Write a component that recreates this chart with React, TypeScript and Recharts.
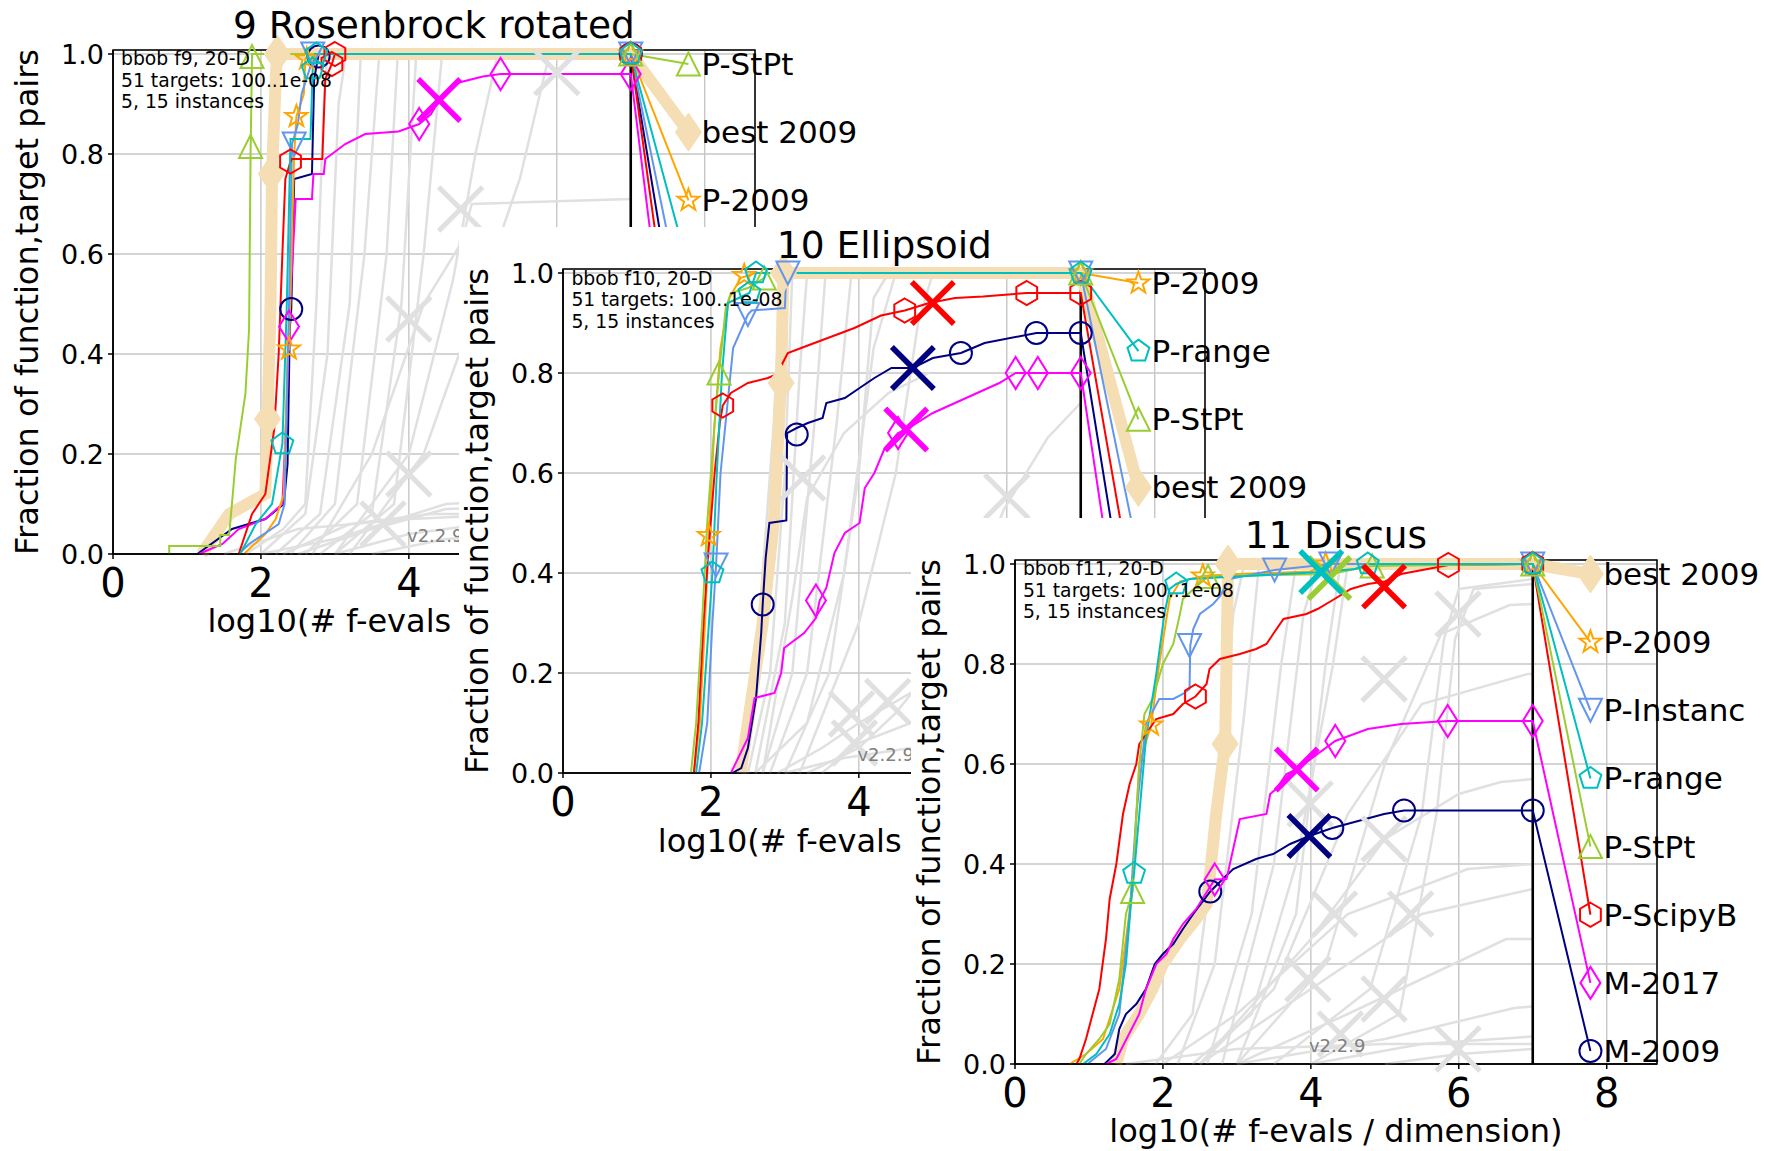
import React from "react";
import {
  ComposedChart,
  Line,
  Scatter,
  XAxis,
  YAxis,
  CartesianGrid,
  ReferenceLine,
  ReferenceArea,
} from "recharts";

type Pt = [number, number];

const FONT = "DejaVu Sans";

// panel geometry (px inside one panel box)
const W = 870;
const H = 640;
const PLOT_L = 104;
const PLOT_T = 42;
const PLOT_W = 642;
const PLOT_H = 504;
const Y_AXIS_W = 60;
const X_AXIS_H = 82;
const X_MAX = 8.68;
const Y_MAX = 1.008;
const LABEL_X = 7.78;

const ALGS = ["M-2009", "M-2017", "P-2009", "P-Instanc", "P-ScipyB", "P-StPt", "P-range"];

const COLORS: Record<string, string> = {
  "best 2009": "#f5deb3",
  "M-2009": "#000080",
  "M-2017": "#ff00ff",
  "P-2009": "#ffa500",
  "P-Instanc": "#6495ed",
  "P-ScipyB": "#ff0000",
  "P-StPt": "#9acd32",
  "P-range": "#00bfbf",
};

const SHAPES: Record<string, string> = {
  "best 2009": "bd",
  "M-2009": "o",
  "M-2017": "d",
  "P-2009": "*",
  "P-Instanc": "v",
  "P-ScipyB": "h",
  "P-StPt": "^",
  "P-range": "p",
};

// ---------- f9 Rosenbrock rotated ----------
const F9_CURVES: Record<string, Pt[]> = {
  "best 2009": [[1.2, 0], [1.57, 0.08], [2.06, 0.12], [2.09, 0.27], [2.13, 0.5], [2.15, 0.76], [2.2, 0.95], [2.22, 1.0], [7, 1.0]],
  "M-2009": [[1.14, 0], [1.61, 0.05], [2.06, 0.07], [2.31, 0.1], [2.36, 0.18], [2.39, 0.45], [2.41, 0.49], [2.45, 0.75], [2.69, 0.76], [2.72, 0.95], [2.78, 1.0], [7, 1.0]],
  "M-2017": [[1.16, 0], [1.48, 0.02], [1.7, 0.05], [2.06, 0.07], [2.29, 0.1], [2.35, 0.3], [2.38, 0.455], [2.47, 0.71], [2.69, 0.71], [2.71, 0.76], [2.85, 0.76], [2.87, 0.79], [3.14, 0.82], [3.41, 0.84], [3.86, 0.845], [4.14, 0.86], [4.3, 0.88], [4.41, 0.908], [4.6, 0.94], [5.0, 0.955], [5.24, 0.96], [7, 0.96]],
  "P-2009": [[1.77, 0], [2.06, 0.04], [2.2, 0.07], [2.31, 0.12], [2.36, 0.4], [2.38, 0.41], [2.45, 0.8], [2.48, 0.875], [2.58, 0.92], [2.6, 0.99], [2.65, 1.0], [7, 1.0]],
  "P-Instanc": [[1.7, 0], [1.84, 0.02], [2.24, 0.06], [2.32, 0.1], [2.38, 0.5], [2.42, 0.82], [2.5, 0.86], [2.55, 0.92], [2.68, 0.98], [2.7, 1.0], [7, 1.0]],
  "P-ScipyB": [[1.7, 0], [1.88, 0.08], [2.06, 0.12], [2.18, 0.25], [2.24, 0.4], [2.29, 0.6], [2.33, 0.75], [2.4, 0.785], [2.42, 0.79], [2.83, 0.79], [2.87, 0.95], [2.96, 0.98], [3.0, 1.0], [7, 1.0]],
  "P-StPt": [[0.76, 0], [0.76, 0.016], [1.45, 0.016], [1.45, 0.038], [1.57, 0.038], [1.62, 0.12], [1.66, 0.19], [1.79, 0.32], [1.84, 0.45], [1.86, 0.8], [1.88, 1.0], [7, 1.0]],
  "P-range": [[1.72, 0], [1.93, 0.06], [2.15, 0.1], [2.29, 0.22], [2.35, 0.5], [2.4, 0.83], [2.67, 0.83], [2.7, 0.97], [2.73, 1.0], [7, 1.0]],
};
const F9_MARKS: Record<string, Pt[]> = {
  "best 2009": [[2.09, 0.27], [2.14, 0.76], [2.22, 1.0]],
  "M-2009": [[2.41, 0.49], [2.78, 0.995], [7, 1.0]],
  "M-2017": [[2.38, 0.455], [4.14, 0.86], [5.24, 0.96], [7, 0.96]],
  "P-2009": [[2.38, 0.41], [2.48, 0.875], [2.62, 0.99], [7, 1.0]],
  "P-Instanc": [[2.45, 0.82], [2.7, 1.0], [7, 1.0]],
  "P-ScipyB": [[2.4, 0.785], [2.96, 0.98], [3.0, 1.0], [7, 1.0]],
  "P-StPt": [[1.86, 0.815], [1.88, 0.995], [7, 1.0]],
  "P-range": [[2.29, 0.22], [2.7, 0.97], [2.75, 1.0], [7, 1.0]],
};
const F9_CROSSES: Record<string, Pt[]> = {
  "M-2017": [[4.41, 0.908]],
};
const F9_ORDER = ["P-StPt", "best 2009", "P-2009", "P-range", "P-Instanc", "M-2009", "P-ScipyB", "M-2017"];
const F9_GRAY: Pt[][] = [
  [[1.8, 0], [2.3, 0.05], [2.6, 0.1], [2.75, 0.5], [2.85, 0.9], [2.9, 1]],
  [[2.0, 0], [2.6, 0.08], [2.9, 0.4], [3.05, 0.9], [3.15, 1]],
  [[2.2, 0], [2.8, 0.08], [3.2, 0.5], [3.35, 1]],
  [[2.4, 0], [3.0, 0.1], [3.4, 0.6], [3.6, 1]],
  [[2.6, 0], [3.3, 0.1], [3.7, 0.6], [3.85, 1]],
  [[2.8, 0], [3.5, 0.08], [3.9, 0.5], [4.1, 1]],
  [[3.0, 0], [3.8, 0.1], [4.2, 0.6], [4.45, 1]],
  [[3.0, 0], [4.0, 0.2], [4.6, 0.55], [4.9, 0.8], [5.2, 1]],
  [[3.2, 0], [4.2, 0.2], [4.8, 0.45], [5.5, 0.75], [5.9, 1]],
  [[2.7, 0], [3.5, 0.2], [4.2, 0.5], [4.7, 0.62], [4.85, 0.7], [7, 0.71]],
  [[1.5, 0], [2.5, 0.05], [4.0, 0.07], [7, 0.09]],
  [[2.0, 0], [3.0, 0.03], [4.5, 0.1], [7, 0.12]],
  [[2.5, 0], [3.5, 0.05], [4.5, 0.09], [7, 0.1]],
  [[3.0, 0], [4.0, 0.04], [5, 0.06], [7, 0.07]],
  [[3.5, 0], [4.5, 0.03], [7, 0.05]],
  [[2.3, 0], [3.2, 0.06], [4.3, 0.08], [7, 0.08]],
];
const F9_GRAY_X: Pt[] = [[4.0, 0.47], [4.0, 0.16], [4.7, 0.69], [6.0, 0.963], [3.65, 0.06]];

// ---------- f10 Ellipsoid ----------
const F10_CURVES: Record<string, Pt[]> = {
  "best 2009": [[2.4, 0], [2.55, 0.15], [2.7, 0.3], [2.85, 0.5], [2.92, 0.7], [2.95, 0.8], [2.98, 1.0], [7, 1.0]],
  "M-2009": [[2.29, 0], [2.41, 0.01], [2.5, 0.05], [2.61, 0.15], [2.68, 0.28], [2.7, 0.337], [2.74, 0.43], [2.79, 0.5], [3.02, 0.505], [3.03, 0.68], [3.16, 0.69], [3.31, 0.7], [3.51, 0.71], [3.56, 0.74], [3.81, 0.75], [4.01, 0.77], [4.21, 0.79], [4.44, 0.81], [4.73, 0.81], [5.0, 0.83], [5.38, 0.84], [5.7, 0.86], [6.4, 0.88], [7, 0.88]],
  "M-2017": [[2.27, 0], [2.5, 0.07], [2.59, 0.15], [2.86, 0.16], [2.95, 0.2], [2.99, 0.25], [3.26, 0.28], [3.42, 0.31], [3.47, 0.345], [3.56, 0.37], [3.67, 0.44], [3.81, 0.48], [4.01, 0.5], [4.08, 0.57], [4.21, 0.6], [4.35, 0.65], [4.53, 0.68], [4.64, 0.687], [5.0, 0.72], [5.45, 0.75], [5.9, 0.78], [6.12, 0.8], [7, 0.8]],
  "P-2009": [[1.77, 0], [1.85, 0.1], [1.92, 0.3], [1.97, 0.475], [2.05, 0.7], [2.13, 0.85], [2.25, 0.95], [2.4, 0.99], [2.6, 1.0], [7, 1.0]],
  "P-Instanc": [[1.84, 0], [1.95, 0.1], [2.02, 0.3], [2.07, 0.416], [2.13, 0.6], [2.3, 0.85], [2.5, 0.917], [2.55, 0.925], [3.0, 0.93], [3.02, 1.0], [7, 1.0]],
  "P-ScipyB": [[1.77, 0], [1.83, 0.1], [1.9, 0.3], [1.97, 0.45], [2.05, 0.6], [2.12, 0.7], [2.16, 0.735], [2.27, 0.76], [2.5, 0.78], [2.77, 0.79], [2.93, 0.8], [2.97, 0.82], [3.04, 0.84], [3.31, 0.855], [3.58, 0.87], [3.94, 0.89], [4.3, 0.915], [4.62, 0.925], [4.95, 0.94], [5.3, 0.95], [5.68, 0.953], [6.27, 0.96], [7, 0.96]],
  "P-StPt": [[1.73, 0], [1.8, 0.1], [1.88, 0.3], [1.95, 0.5], [2.05, 0.7], [2.11, 0.8], [2.2, 0.93], [2.27, 0.96], [2.5, 0.97], [2.72, 0.99], [2.75, 1.0], [7, 1.0]],
  "P-range": [[1.8, 0], [1.88, 0.1], [1.95, 0.25], [2.02, 0.4], [2.08, 0.6], [2.15, 0.8], [2.23, 0.94], [2.52, 0.96], [2.61, 1.0], [7, 1.0]],
};
const F10_MARKS: Record<string, Pt[]> = {
  "best 2009": [[2.95, 0.78], [2.98, 1.0]],
  "M-2009": [[2.7, 0.337], [3.16, 0.677], [5.38, 0.84], [6.4, 0.88], [7, 0.88]],
  "M-2017": [[3.42, 0.345], [4.53, 0.68], [6.12, 0.8], [6.42, 0.8], [7, 0.8]],
  "P-2009": [[1.97, 0.475], [2.45, 0.995], [7, 1.0]],
  "P-Instanc": [[2.07, 0.416], [2.5, 0.917], [3.04, 1.0], [7, 1.0]],
  "P-ScipyB": [[2.16, 0.735], [4.62, 0.925], [6.27, 0.96], [7, 0.96]],
  "P-StPt": [[2.11, 0.8], [2.72, 0.99], [7, 1.0]],
  "P-range": [[2.02, 0.4], [2.52, 0.96], [2.61, 1.0], [7, 1.0]],
};
const F10_CROSSES: Record<string, Pt[]> = {
  "P-ScipyB": [[5.0, 0.94]],
  "M-2009": [[4.73, 0.81]],
  "M-2017": [[4.64, 0.687]],
};
const F10_ORDER = ["P-2009", "P-range", "P-StPt", "best 2009", "P-Instanc", "P-ScipyB", "M-2009", "M-2017"];
const F10_GRAY: Pt[][] = [
  [[2.45, 0], [2.65, 0.3], [2.85, 0.7], [2.95, 1]],
  [[2.5, 0], [2.8, 0.2], [3.0, 0.6], [3.1, 1]],
  [[2.6, 0], [3.0, 0.3], [3.2, 0.8], [3.3, 1]],
  [[2.7, 0], [3.1, 0.2], [3.4, 0.7], [3.55, 1]],
  [[2.8, 0], [3.3, 0.2], [3.7, 0.7], [3.9, 1]],
  [[3.0, 0], [3.6, 0.2], [4.0, 0.6], [4.2, 0.95], [4.4, 1]],
  [[2.7, 0], [3.1, 0.35], [3.3, 0.55], [3.8, 0.68], [4.4, 0.76], [4.95, 0.8]],
  [[3.2, 0], [4.0, 0.3], [4.5, 0.6], [4.8, 0.9], [5.0, 1]],
  [[3.3, 0], [4.0, 0.05], [4.5, 0.12], [5.2, 0.25], [5.96, 0.527], [6.55, 0.67], [7, 0.74]],
  [[2.9, 0], [3.5, 0.05], [4.0, 0.1], [4.7, 0.16], [7, 0.2]],
  [[3.5, 0], [4.0, 0.06], [4.7, 0.1], [7, 0.12]],
  [[3.0, 0], [3.8, 0.03], [4.7, 0.05], [7, 0.06]],
  [[2.6, 0], [3.3, 0.1], [3.8, 0.4], [4.2, 0.85], [4.5, 1]],
];
const F10_GRAY_X: Pt[] = [[3.24, 0.59], [3.9, 0.118], [4.39, 0.143], [3.94, 0.06], [6.0, 0.553]];

// ---------- f11 Discus ----------
const F11_CURVES: Record<string, Pt[]> = {
  "best 2009": [[1.37, 0], [1.46, 0.05], [1.68, 0.1], [1.86, 0.15], [2.0, 0.2], [2.23, 0.25], [2.45, 0.29], [2.59, 0.32], [2.63, 0.37], [2.72, 0.5], [2.84, 0.64], [2.86, 0.8], [2.88, 1.0], [7, 1.0]],
  "M-2009": [[1.21, 0], [1.35, 0.02], [1.41, 0.07], [1.5, 0.1], [1.64, 0.12], [1.77, 0.15], [1.89, 0.2], [2.0, 0.22], [2.14, 0.24], [2.27, 0.27], [2.41, 0.3], [2.64, 0.345], [2.81, 0.37], [2.95, 0.39], [3.26, 0.41], [3.49, 0.42], [3.72, 0.44], [3.98, 0.456], [4.29, 0.472], [4.99, 0.5], [5.26, 0.507], [7, 0.507]],
  "M-2017": [[1.23, 0], [1.37, 0.01], [1.68, 0.1], [1.77, 0.15], [1.91, 0.2], [2.05, 0.22], [2.14, 0.25], [2.27, 0.28], [2.45, 0.31], [2.7, 0.369], [2.86, 0.37], [2.95, 0.43], [3.04, 0.49], [3.4, 0.5], [3.45, 0.54], [3.53, 0.55], [3.67, 0.58], [3.81, 0.589], [4.09, 0.62], [4.33, 0.646], [4.77, 0.67], [5.22, 0.68], [5.85, 0.686], [7, 0.686]],
  "P-2009": [[0.74, 0], [0.96, 0.02], [1.19, 0.05], [1.41, 0.15], [1.59, 0.35], [1.68, 0.6], [1.84, 0.678], [1.95, 0.8], [2.09, 0.93], [2.23, 0.965], [2.54, 0.976], [3.0, 0.98], [4.0, 0.985], [4.2, 1.0], [7, 1.0]],
  "P-Instanc": [[0.98, 0], [1.23, 0.03], [1.41, 0.1], [1.55, 0.3], [1.64, 0.5], [1.77, 0.68], [1.95, 0.73], [2.14, 0.73], [2.27, 0.74], [2.36, 0.75], [2.37, 0.837], [2.41, 0.87], [2.5, 0.9], [2.68, 0.92], [2.77, 0.935], [2.9, 0.97], [3.51, 0.988], [4.27, 1.0], [7, 1.0]],
  "P-ScipyB": [[0.83, 0], [0.87, 0.01], [0.96, 0.05], [1.05, 0.1], [1.14, 0.15], [1.23, 0.25], [1.28, 0.33], [1.37, 0.4], [1.46, 0.5], [1.55, 0.56], [1.64, 0.6], [1.68, 0.64], [1.77, 0.66], [1.91, 0.69], [2.14, 0.7], [2.27, 0.72], [2.44, 0.735], [2.59, 0.76], [2.63, 0.79], [2.77, 0.81], [3.04, 0.82], [3.26, 0.83], [3.4, 0.84], [3.49, 0.86], [3.63, 0.89], [3.94, 0.9], [4.09, 0.91], [4.32, 0.93], [4.54, 0.95], [4.77, 0.96], [5.0, 0.965], [5.22, 0.98], [5.58, 0.99], [5.86, 0.998], [7, 1.0]],
  "P-StPt": [[0.87, 0], [0.96, 0.02], [1.14, 0.05], [1.28, 0.08], [1.41, 0.17], [1.5, 0.3], [1.59, 0.345], [1.64, 0.5], [1.68, 0.6], [1.75, 0.7], [1.86, 0.73], [2.0, 0.8], [2.14, 0.84], [2.23, 0.9], [2.27, 0.93], [2.45, 0.955], [2.61, 0.975], [3.5, 0.978], [4.27, 0.98], [4.6, 0.99], [4.83, 0.996], [7, 1.0]],
  "P-range": [[0.92, 0], [1.1, 0.02], [1.28, 0.06], [1.41, 0.12], [1.5, 0.2], [1.59, 0.36], [1.61, 0.381], [1.77, 0.65], [1.91, 0.78], [2.02, 0.9], [2.09, 0.95], [2.18, 0.96], [2.36, 0.97], [3.0, 0.975], [4.14, 0.984], [4.6, 0.99], [4.77, 1.0], [7, 1.0]],
};
const F11_MARKS: Record<string, Pt[]> = {
  "best 2009": [[2.84, 0.64], [2.88, 1.0]],
  "M-2009": [[2.64, 0.345], [4.29, 0.472], [5.26, 0.507], [7, 0.507]],
  "M-2017": [[2.7, 0.369], [4.33, 0.646], [5.85, 0.686], [7, 0.686]],
  "P-2009": [[1.84, 0.678], [2.54, 0.976], [4.2, 1.0], [7, 1.0]],
  "P-Instanc": [[2.36, 0.837], [3.51, 0.988], [4.27, 1.0], [7, 1.0]],
  "P-ScipyB": [[2.44, 0.735], [5.86, 0.998], [7, 1.0]],
  "P-StPt": [[1.59, 0.345], [2.61, 0.975], [4.83, 0.996], [7, 1.0]],
  "P-range": [[1.61, 0.381], [2.18, 0.96], [4.77, 1.0], [7, 1.0]],
};
const F11_CROSSES: Record<string, Pt[]> = {
  "P-ScipyB": [[4.99, 0.955]],
  "M-2009": [[3.98, 0.456]],
  "M-2017": [[3.81, 0.589]],
  "P-StPt": [[4.25, 0.972]],
  "P-range": [[4.14, 0.984]],
};
const F11_ORDER = ["best 2009", "P-2009", "P-Instanc", "P-range", "P-StPt", "P-ScipyB", "M-2017", "M-2009"];
const F11_GRAY: Pt[][] = [
  [[1.9, 0], [2.4, 0.1], [2.75, 0.5], [2.95, 0.9], [3.1, 1]],
  [[2.2, 0], [2.7, 0.2], [3.1, 0.7], [3.3, 1]],
  [[2.6, 0], [3.2, 0.3], [3.6, 0.8], [3.8, 1]],
  [[2.8, 0], [3.5, 0.4], [3.9, 0.9], [4.1, 1]],
  [[3.0, 0], [3.8, 0.3], [4.2, 0.8], [4.4, 1]],
  [[2.4, 0], [3.2, 0.1], [3.8, 0.4], [4.3, 0.8], [4.5, 1]],
  [[3.5, 0], [4.8, 0.15], [5.5, 0.5], [5.8, 0.85], [6.0, 0.95], [7, 0.97]],
  [[4.0, 0], [5.2, 0.1], [5.7, 0.5], [5.95, 0.85], [6.2, 0.95], [7, 0.96]],
  [[3.0, 0], [4.2, 0.2], [5.0, 0.6], [5.76, 0.86], [6.69, 0.918], [7, 0.92]],
  [[2.5, 0], [3.5, 0.15], [4.5, 0.5], [5.5, 0.72], [6.93, 0.78], [7, 0.78]],
  [[2.5, 0], [4.0, 0.25], [5.0, 0.45], [6.0, 0.54], [6.57, 0.564], [7, 0.57]],
  [[2.0, 0], [3.0, 0.1], [4.5, 0.3], [6.12, 0.39], [7, 0.4]],
  [[2.5, 0], [4.0, 0.15], [5.5, 0.3], [7, 0.35]],
  [[3.0, 0], [4.5, 0.1], [6.64, 0.25], [7, 0.25]],
  [[3.0, 0], [5.0, 0.05], [6.75, 0.112], [7, 0.115]],
  [[4.0, 0], [5.5, 0.04], [7, 0.055]],
  [[1.5, 0], [3.0, 0.03], [5.0, 0.04], [7, 0.04]],
  [[5.0, 0], [6.0, 0.02], [7, 0.03]],
];
const F11_GRAY_X: Pt[] = [[3.99, 0.52], [4.99, 0.77], [5.99, 0.9], [4.99, 0.45], [5.35, 0.3], [4.32, 0.3], [3.96, 0.17], [4.99, 0.13], [5.99, 0.03], [4.4, 0.06]];

const labelY = (rank: number) => 0.98 - rank * 0.1363;
const rows = (pts: Pt[]) => pts.map(([x, y]) => ({ x, y }));

function regular(cx: number, cy: number, n: number, r: number) {
  const pts: string[] = [];
  for (let i = 0; i < n; i++) {
    const a = -Math.PI / 2 + (i * 2 * Math.PI) / n;
    pts.push(`${cx + r * Math.cos(a)},${cy + r * Math.sin(a)}`);
  }
  return pts.join(" ");
}

function star(cx: number, cy: number, r: number, ri: number) {
  const pts: string[] = [];
  for (let i = 0; i < 10; i++) {
    const a = -Math.PI / 2 + (i * Math.PI) / 5;
    const rr = i % 2 === 0 ? r : ri;
    pts.push(`${cx + rr * Math.cos(a)},${cy + rr * Math.sin(a)}`);
  }
  return pts.join(" ");
}

function MarkerShape({ kind, cx, cy, color }: { kind: string; cx: number; cy: number; color: string }) {
  const st = { fill: "none", stroke: color, strokeWidth: 2 };
  if (kind === "o") return <circle cx={cx} cy={cy} r={11} {...st} />;
  if (kind === "d")
    return <polygon points={`${cx},${cy - 16} ${cx + 10},${cy} ${cx},${cy + 16} ${cx - 10},${cy}`} {...st} />;
  if (kind === "bd")
    return (
      <polygon
        points={`${cx},${cy - 19} ${cx + 13},${cy} ${cx},${cy + 19} ${cx - 13},${cy}`}
        fill={color}
        stroke={color}
        strokeWidth={1}
      />
    );
  if (kind === "^")
    return <polygon points={`${cx},${cy - 11.5} ${cx - 11.5},${cy + 11.5} ${cx + 11.5},${cy + 11.5}`} {...st} />;
  if (kind === "v")
    return <polygon points={`${cx},${cy + 11.5} ${cx - 11.5},${cy - 11.5} ${cx + 11.5},${cy - 11.5}`} {...st} />;
  if (kind === "h") return <polygon points={regular(cx, cy, 6, 12)} {...st} />;
  if (kind === "p") return <polygon points={regular(cx, cy, 5, 11.5)} {...st} />;
  return <polygon points={star(cx, cy, 11.5, 4.6)} {...st} />;
}

function Cross({ cx, cy, color, size, width }: { cx: number; cy: number; color: string; size: number; width: number }) {
  return (
    <g stroke={color} strokeWidth={width}>
      <line x1={cx - size} y1={cy - size} x2={cx + size} y2={cy + size} />
      <line x1={cx - size} y1={cy + size} x2={cx + size} y2={cy - size} />
    </g>
  );
}

type PanelProps = {
  left: number;
  top: number;
  title: string;
  info: string[];
  curves: Record<string, Pt[]>;
  marks: Record<string, Pt[]>;
  crosses: Record<string, Pt[]>;
  order: string[];
  gray: Pt[][];
  grayX: Pt[];
};

function Panel({ left, top, title, info, curves, marks, crosses, order, gray, grayX }: PanelProps) {
  const names = ["best 2009", ...ALGS];
  const lineRows = (name: string) => rows([...curves[name], [LABEL_X, labelY(order.indexOf(name))]]);
  const markRows = (name: string) => [
    ...rows(marks[name]),
    { x: LABEL_X, y: labelY(order.indexOf(name)), label: name },
  ];

  return (
    <div style={{ position: "absolute", left, top, width: W, height: H, background: "#fff" }}>
      <ComposedChart
        width={W}
        height={H}
        margin={{ top: PLOT_T, left: PLOT_L - Y_AXIS_W, right: W - PLOT_L - PLOT_W, bottom: H - PLOT_T - PLOT_H - X_AXIS_H }}
        style={{ fontFamily: FONT, overflow: "visible" }}
      >
        <CartesianGrid stroke="#c6c6c6" strokeWidth={1.4} />
        <XAxis
          type="number"
          dataKey="x"
          domain={[0, X_MAX]}
          ticks={[0, 2, 4, 6, 8]}
          interval={0}
          height={X_AXIS_H}
          axisLine={{ stroke: "#000", strokeWidth: 1.5 }}
          tickLine={{ stroke: "#000", strokeWidth: 1.5 }}
          tickSize={5}
          tickMargin={10}
          tick={{ fontSize: 40, fill: "#000", fontFamily: FONT }}
        />
        <YAxis
          type="number"
          dataKey="y"
          domain={[0, Y_MAX]}
          ticks={[0, 0.2, 0.4, 0.6, 0.8, 1.0]}
          interval={0}
          width={Y_AXIS_W}
          axisLine={{ stroke: "#000", strokeWidth: 1.5 }}
          tickLine={{ stroke: "#000", strokeWidth: 1.5 }}
          tickSize={5}
          tickMargin={4}
          tickFormatter={(v: number) => v.toFixed(1)}
          tick={{ fontSize: 27, fill: "#000", fontFamily: FONT }}
        />
        {gray.map((g, i) => (
          <Line
            key={"g" + i}
            data={rows(g)}
            dataKey="y"
            type="linear"
            stroke="#e0e0e0"
            strokeWidth={2.5}
            dot={false}
            activeDot={false}
            isAnimationActive={false}
          />
        ))}
        <Scatter
          data={rows(grayX)}
          isAnimationActive={false}
          shape={(p: any) => <Cross cx={p.cx} cy={p.cy} color="#e0e0e0" size={22} width={5} />}
        />
        <ReferenceLine x={7} stroke="#000" strokeWidth={2.6} />
        {names.map((n) => (
          <Line
            key={"l" + n}
            data={lineRows(n)}
            dataKey="y"
            type="linear"
            stroke={COLORS[n]}
            strokeWidth={n === "best 2009" ? 12 : 2}
            dot={false}
            activeDot={false}
            isAnimationActive={false}
          />
        ))}
        {names.map((n) => (
          <Scatter
            key={"m" + n}
            data={markRows(n)}
            isAnimationActive={false}
            shape={(p: any) => {
              const lab = (p.payload && p.payload.label) || null;
              return (
                <g>
                  <MarkerShape kind={SHAPES[n]} cx={p.cx} cy={p.cy} color={COLORS[n]} />
                  {lab ? (
                    <text
                      x={p.cx + 13}
                      y={p.cy}
                      dominantBaseline="central"
                      fontSize={31}
                      fontFamily={FONT}
                      fill="#000"
                    >
                      {lab}
                    </text>
                  ) : null}
                </g>
              );
            }}
          />
        ))}
        {Object.keys(crosses).map((n) => (
          <Scatter
            key={"x" + n}
            data={rows(crosses[n])}
            isAnimationActive={false}
            shape={(p: any) => <Cross cx={p.cx} cy={p.cy} color={COLORS[n]} size={21} width={5.5} />}
          />
        ))}
        <ReferenceArea x1={0} x2={X_MAX} y1={0} y2={Y_MAX} fill="none" stroke="#000" strokeWidth={1.5} ifOverflow="visible" />
      </ComposedChart>

      <div
        style={{
          position: "absolute",
          left: PLOT_L,
          width: PLOT_W,
          top: -0.5,
          textAlign: "center",
          fontSize: 37.5,
          lineHeight: "37.5px",
          fontFamily: FONT,
          whiteSpace: "nowrap",
        }}
      >
        {title}
      </div>
      <div
        style={{
          position: "absolute",
          left: PLOT_L + 8,
          top: PLOT_T - 1.5,
          fontSize: 18.8,
          lineHeight: "21.5px",
          fontFamily: FONT,
          whiteSpace: "nowrap",
        }}
      >
        {info.map((t) => (
          <div key={t}>{t}</div>
        ))}
      </div>
      <div
        style={{
          position: "absolute",
          left: PLOT_L + 294,
          top: PLOT_T + PLOT_H - 27,
          fontSize: 18,
          lineHeight: "18px",
          color: "#808080",
          fontFamily: FONT,
        }}
      >
        v2.2.9
      </div>
      <div
        style={{
          position: "absolute",
          left: PLOT_L,
          width: PLOT_W,
          top: PLOT_T + PLOT_H + 51.5,
          textAlign: "center",
          fontSize: 32,
          lineHeight: "32px",
          fontFamily: FONT,
          whiteSpace: "nowrap",
        }}
      >
        log10(# f-evals / dimension)
      </div>
      <div
        style={{
          position: "absolute",
          left: 18,
          top: PLOT_T + PLOT_H / 2,
          transform: "translate(-50%, -50%) rotate(-90deg)",
          fontSize: 32,
          lineHeight: "32px",
          fontFamily: FONT,
          whiteSpace: "nowrap",
        }}
      >
        Fraction of function,target pairs
      </div>
    </div>
  );
}

export default function App() {
  return (
    <div
      style={{
        position: "absolute",
        left: 0,
        top: 0,
        width: 1774,
        height: 1151,
        overflow: "hidden",
        background: "#fff",
      }}
    >
      <Panel
        left={9}
        top={7.5}
        title="9 Rosenbrock rotated"
        info={["bbob f9, 20-D", "51 targets: 100..1e-08", "5, 15 instances"]}
        curves={F9_CURVES}
        marks={F9_MARKS}
        crosses={F9_CROSSES}
        order={F9_ORDER}
        gray={F9_GRAY}
        grayX={F9_GRAY_X}
      />
      <Panel
        left={459.4}
        top={227.2}
        title="10 Ellipsoid"
        info={["bbob f10, 20-D", "51 targets: 100..1e-08", "5, 15 instances"]}
        curves={F10_CURVES}
        marks={F10_MARKS}
        crosses={F10_CROSSES}
        order={F10_ORDER}
        gray={F10_GRAY}
        grayX={F10_GRAY_X}
      />
      <Panel
        left={910.9}
        top={517.9}
        title="11 Discus"
        info={["bbob f11, 20-D", "51 targets: 100..1e-08", "5, 15 instances"]}
        curves={F11_CURVES}
        marks={F11_MARKS}
        crosses={F11_CROSSES}
        order={F11_ORDER}
        gray={F11_GRAY}
        grayX={F11_GRAY_X}
      />
    </div>
  );
}
